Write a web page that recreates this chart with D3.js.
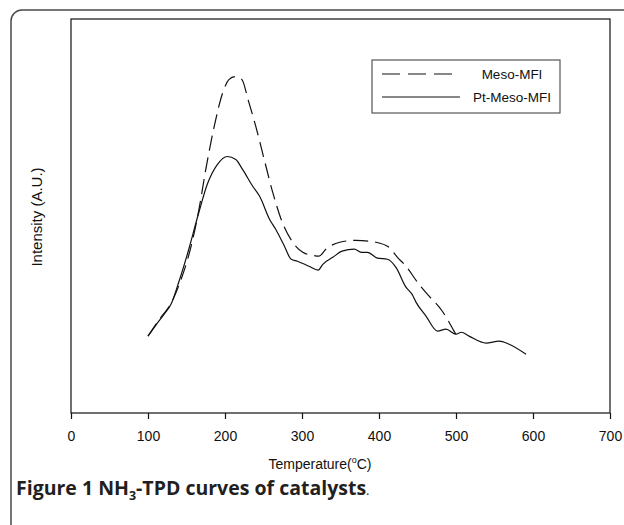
<!DOCTYPE html>
<html>
<head>
<meta charset="utf-8">
<script src="https://cdn.jsdelivr.net/npm/d3@7"></script>
<style>
  body { margin: 0; background: #fff; }
  svg { display: block; }
</style>
</head>
<body>
<div id="chart"></div>
<script>
// data (temperature in C, intensity in arbitrary units)
var mesoT = [100, 118, 127, 143, 156, 166, 175, 186, 197, 205, 213, 222, 230, 240, 251, 262, 273, 288, 301, 314, 322, 331, 349, 370, 396, 413, 424, 435, 452, 463, 482, 491, 500, 503];
var mesoI = [19.9, 25.1, 27.4, 34.6, 43.2, 52.5, 63.0, 74.2, 82.9, 86.3, 87.1, 86.3, 81.1, 74.2, 65.6, 57.1, 50.1, 44.2, 41.6, 40.8, 40.6, 42.4, 44.2, 44.7, 44.2, 42.9, 40.3, 38.0, 33.3, 30.7, 26.4, 23.5, 20.4, 19.6];

var ptT = [100, 110, 121, 130, 140, 153, 166, 177, 190, 203, 214, 223, 236, 245, 258, 266, 276, 286, 294, 309, 321, 327, 340, 352, 368, 377, 385, 398, 411, 422, 435, 443, 448, 461, 476, 487, 500, 507, 517, 539, 556, 569, 591];
var ptI = [19.9, 22.7, 25.6, 28.2, 33.9, 42.4, 51.9, 59.2, 64.3, 66.4, 65.6, 63.0, 58.7, 56.1, 50.1, 47.5, 43.7, 39.8, 39.3, 38.0, 37.0, 38.5, 40.3, 41.9, 42.4, 41.6, 41.6, 40.1, 39.8, 37.7, 32.6, 30.7, 28.7, 25.1, 21.2, 21.7, 20.4, 20.9, 19.9, 18.1, 18.6, 17.8, 15.2];

var xTicks = [0, 100, 200, 300, 400, 500, 600, 700];
var seriesNames = ["Meso-MFI", "Pt-Meso-MFI"];

var W = 624, H = 525;
var margin = {top: 19, right: 14, bottom: 112, left: 71};
var width = W - margin.left - margin.right;
var height = H - margin.top - margin.bottom;

var root = d3.select("#chart").append("svg")
    .attr("width", W)
    .attr("height", H);

// outer panel frame (rounded, runs off the right and bottom)
root.append("rect")
    .attr("x", 11).attr("y", 10)
    .attr("width", 660).attr("height", 560)
    .attr("rx", 11)
    .attr("fill", "none")
    .attr("stroke", "#4a4a4a")
    .attr("stroke-width", 1.5);

var svg = root.append("g")
    .attr("transform", `translate(${margin.left}, ${margin.top})`);

var xScale = d3.scaleLinear().domain([0, 700]).range([0, width]);
var yScale = d3.scaleLinear().domain([0, 102]).range([height, 0]);

// plot frame
svg.append("rect")
    .attr("width", width).attr("height", height)
    .attr("fill", "none")
    .attr("stroke", "#111")
    .attr("stroke-width", 1.2);

var xAxis = svg.append("g")
    .attr("transform", `translate(0, ${height})`)
    .call(d3.axisBottom(xScale).tickValues(xTicks).tickSize(6).tickPadding(12).tickFormat(d3.format("d")));
xAxis.select(".domain").remove();
xAxis.selectAll("line").attr("stroke", "#111").attr("stroke-width", 1.2);
xAxis.selectAll("text")
    .attr("fill", "#111")
    .style("font-family", "'Liberation Sans', Arial, sans-serif")
    .style("font-size", "14px");

// curves
var line = d3.line()
    .x(function(d) { return xScale(d[0]); })
    .y(function(d) { return yScale(d[1]); })
    .curve(d3.curveMonotoneX);

svg.append("path")
    .datum(d3.zip(mesoT, mesoI))
    .attr("d", line)
    .attr("fill", "none")
    .attr("stroke", "#111")
    .attr("stroke-width", 1.2)
    .attr("stroke-dasharray", "15,7");

svg.append("path")
    .datum(d3.zip(ptT, ptI))
    .attr("d", line)
    .attr("fill", "none")
    .attr("stroke", "#111")
    .attr("stroke-width", 1.2);

// legend
var legend = root.append("g").attr("transform", "translate(372, 60)");
legend.append("rect")
    .attr("width", 188).attr("height", 53)
    .attr("fill", "#fff")
    .attr("stroke", "#555")
    .attr("stroke-width", 1.2);
legend.append("line")
    .attr("x1", 10).attr("x2", 84).attr("y1", 14).attr("y2", 14)
    .attr("stroke", "#111").attr("stroke-width", 1.2)
    .attr("stroke-dasharray", "18,8");
legend.append("line")
    .attr("x1", 10).attr("x2", 88).attr("y1", 37).attr("y2", 37)
    .attr("stroke", "#111").attr("stroke-width", 1.2);
legend.selectAll("text.lg")
    .data(seriesNames)
    .enter().append("text")
    .attr("class", "lg")
    .attr("x", 140)
    .attr("y", function(d, i) { return 19 + i * 23; })
    .attr("text-anchor", "middle")
    .attr("fill", "#111")
    .style("font-family", "'Liberation Sans', Arial, sans-serif")
    .style("font-size", "13.5px")
    .text(function(d) { return d; });

// axis labels
var xLabel = root.append("text")
    .attr("x", 320)
    .attr("y", 469)
    .attr("text-anchor", "middle")
    .attr("fill", "#111")
    .style("font-family", "'Liberation Sans', Arial, sans-serif")
    .style("font-size", "14px");
xLabel.append("tspan").text("Temperature(");
xLabel.append("tspan").attr("dy", -6).style("font-size", "9px").text("o");
xLabel.append("tspan").attr("dy", 6).text("C)");

root.append("text")
    .attr("transform", "translate(42, 217) rotate(-90)")
    .attr("text-anchor", "middle")
    .attr("fill", "#111")
    .style("font-family", "'Liberation Sans', Arial, sans-serif")
    .style("font-size", "15px")
    .text("Intensity (A.U.)");

// caption
var cap = root.append("text")
    .attr("x", 16)
    .attr("y", 495)
    .attr("fill", "#231f20")
    .style("font-family", "'Open Sans', sans-serif")
    .style("font-size", "19.5px")
    .style("font-weight", "bold");
cap.append("tspan").text("Figure 1 NH");
cap.append("tspan").attr("dy", 5).style("font-size", "12.5px").text("3");
cap.append("tspan").attr("dy", -5).text("-TPD curves of catalysts");
cap.append("tspan").style("font-weight", "normal").style("font-size", "13px").text(".");
</script>
</body>
</html>
